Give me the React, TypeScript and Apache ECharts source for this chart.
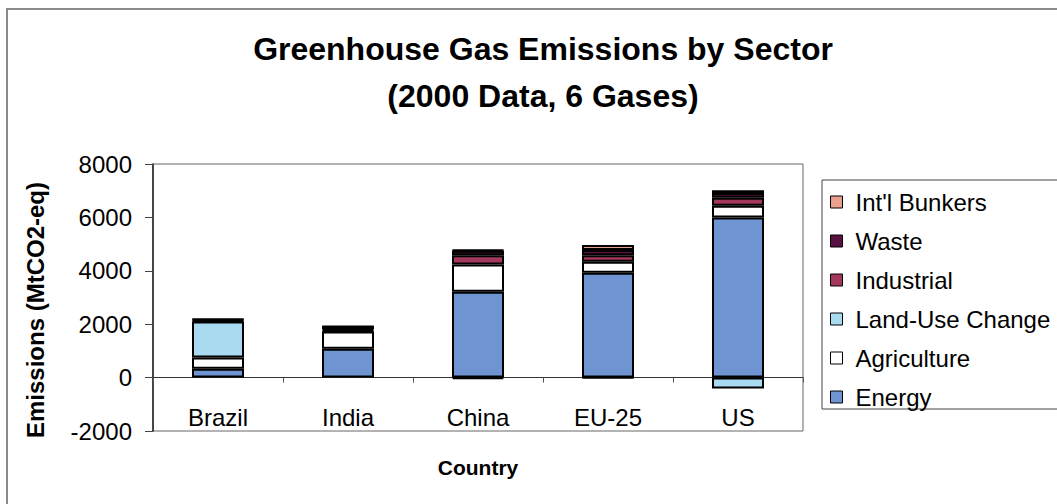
import React, { useEffect, useRef } from "react";
import * as echarts from "echarts";

// Countries along the category axis
const countries = ["Brazil", "India", "China", "EU-25", "US"];

// Emissions by sector, MtCO2-eq (year 2000, six gases)
const energy = [330, 1080, 3220, 3930, 6000];
const agriculture = [420, 650, 1020, 410, 440];
const landUseChange = [1350, 40, -50, -20, -410];
const industrial = [30, 40, 340, 240, 300];
const waste = [50, 100, 170, 200, 170];
const intlBunkers = [20, 10, 30, 190, 110];

// Value axis ticks
const yTicks = [-2000, 0, 2000, 4000, 6000, 8000];

const FONT = "'Liberation Sans', Arial, Helvetica, sans-serif";

export default function App() {
  const ref = useRef<HTMLDivElement>(null);

  useEffect(() => {
    if (!ref.current) return;
    const chart = echarts.init(ref.current, undefined, { renderer: "svg" });

    const sector = (name: string, data: number[], color: string) => ({
      name,
      type: "bar",
      stack: "total",
      barWidth: "40%",
      data,
      itemStyle: { color, borderColor: "#000", borderWidth: 2 },
    });

    chart.setOption({
      animation: false,
      backgroundColor: "#fff",
      textStyle: { fontFamily: FONT },
      title: {
        text: "Greenhouse Gas Emissions by Sector\n(2000 Data, 6 Gases)",
        left: 538,
        top: 20,
        textAlign: "center",
        textStyle: {
          fontFamily: FONT,
          fontSize: 32,
          fontWeight: "bold",
          color: "#000",
          lineHeight: 47,
        },
      },
      legend: {
        orient: "vertical",
        left: 822,
        top: 180,
        padding: [10, 60, 0, 8],
        itemGap: 15,
        itemWidth: 12,
        itemHeight: 12,
        icon: "rect",
        borderColor: "#444",
        borderWidth: 1,
        itemStyle: { borderColor: "#000", borderWidth: 1 },
        textStyle: {
          fontFamily: FONT,
          fontSize: 24,
          lineHeight: 24,
          color: "#000",
          padding: [0, 0, 0, 8],
        },
        data: [
          "Int'l Bunkers",
          "Waste",
          "Industrial",
          "Land-Use Change",
          "Agriculture",
          "Energy",
        ],
      },
      grid: {
        left: 153,
        top: 164,
        width: 650,
        height: 267,
        containLabel: false,
        outerBoundsMode: "none",
        show: true,
        borderColor: "#666",
        borderWidth: 1,
        backgroundColor: "transparent",
      },
      xAxis: {
        type: "category",
        data: countries,
        name: "Country",
        nameLocation: "middle",
        nameGap: 26,
        nameMoveOverlap: false,
        nameTextStyle: { fontFamily: FONT, fontSize: 21, fontWeight: "bold", color: "#000" },
        axisLine: { onZero: true, lineStyle: { color: "#333", width: 1 } },
        axisTick: { show: true, length: 5, lineStyle: { color: "#555" } },
        axisLabel: { fontFamily: FONT, fontSize: 24, color: "#000", margin: -26 },
      },
      yAxis: {
        type: "value",
        min: yTicks[0],
        max: yTicks[yTicks.length - 1],
        interval: yTicks[1] - yTicks[0],
        name: "Emissions (MtCO2-eq)",
        nameLocation: "middle",
        nameGap: 106,
        nameMoveOverlap: false,
        nameTextStyle: {
          fontFamily: FONT,
          fontSize: 24,
          fontWeight: "bold",
          color: "#000",
          padding: [0, 25, 0, 0],
        },
        splitLine: { show: false },
        axisLine: { show: true, lineStyle: { color: "#222", width: 1.5 } },
        axisTick: { show: true, inside: false, length: 8, lineStyle: { color: "#444" } },
        axisLabel: {
          fontFamily: FONT,
          fontSize: 24,
          color: "#000",
          margin: 21,
          formatter: (v: number) => String(v),
        },
      },
      graphic: [
        {
          type: "polyline",
          shape: { points: [[7, 504], [7, 9], [1057, 9]] },
          style: { stroke: "#8a8a8a", lineWidth: 2, fill: "none" },
          silent: true,
        },
      ],
      series: [
        sector("Energy", energy, "#6f94d2"),
        sector("Agriculture", agriculture, "#ffffff"),
        sector("Land-Use Change", landUseChange, "#a9daf0"),
        sector("Industrial", industrial, "#a3385e"),
        sector("Waste", waste, "#5a1042"),
        sector("Int'l Bunkers", intlBunkers, "#e9a08e"),
      ],
    });

    return () => chart.dispose();
  }, []);

  return (
    <div
      ref={ref}
      style={{ position: "fixed", left: 0, top: 0, width: 1057, height: 504 }}
    />
  );
}
